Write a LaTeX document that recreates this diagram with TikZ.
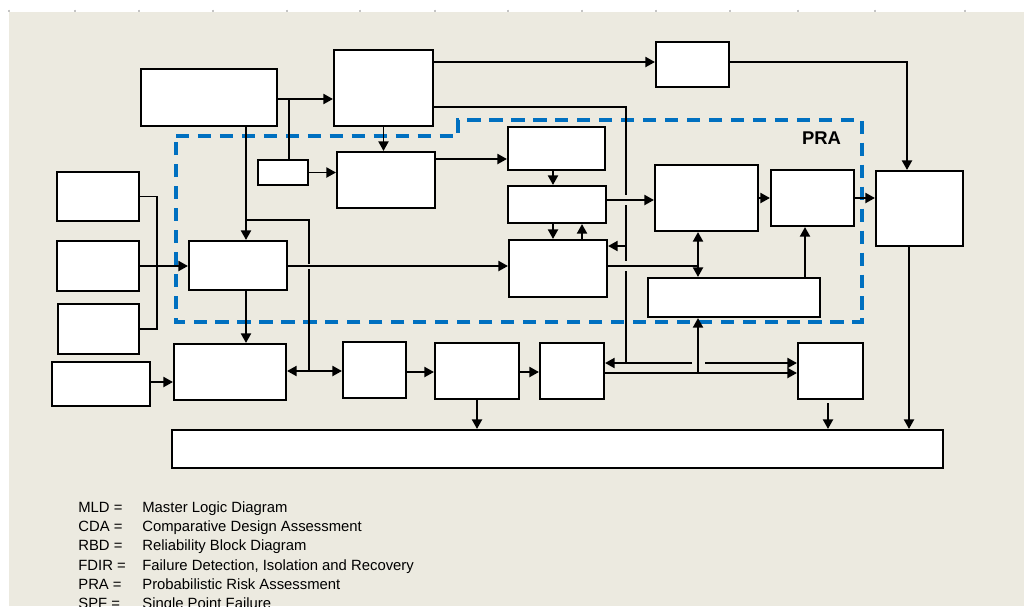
\documentclass[tikz,border=0pt]{standalone}
\usepackage{fontspec}
\setmainfont{Liberation Sans}
\usetikzlibrary{arrows.meta}
\definecolor{pagebg}{HTML}{ECEAE0}
\definecolor{praaccent}{HTML}{0070C0}
\definecolor{tickgray}{HTML}{C4C4C4}
\tikzset{
  block/.style={
    draw=black,
    fill=white,
    line width=1.2pt,
    inner sep=0pt,
  },
  flow/.style={
    -{Triangle[length=1.9mm,width=2mm]},
    line width=1.05pt,
  },
  both flow/.style={
    {Triangle[length=1.9mm,width=2mm]}-{Triangle[length=1.9mm,width=2mm]},
    line width=1.05pt,
  },
  link/.style={
    line width=1.05pt,
  },
  pra border/.style={
    draw=praaccent,
    line width=2.2pt,
    dash pattern=on 7.5pt off 5pt,
  },
  pra label/.style={
    font=\fontsize{10.5}{12}\selectfont\bfseries,
    inner sep=0pt,
  },
  legend/.style={
    anchor=base west,
    inner sep=0pt,
    font=\fontsize{8.45}{10}\selectfont,
  },
}

\begin{document}
\begin{tikzpicture}[x=0.02cm, y=-0.02cm]
  \useasboundingbox (0,0) rectangle (1024,606);
  \fill[pagebg] (9,12) rectangle (1024,606);
  \foreach \tx in {9,75,139,213,287,360,435,508,582,656,730,798,875,965}
    \draw[tickgray, line width=0.6pt] (\tx,9.5) -- (\tx,12);

  \draw[pra border] (176,136) -- (458,136) -- (458,120) -- (862,120)
    -- (862,322) -- (176,322) -- cycle;
  \node[pra label] (pra) at (821.5,138.5) {PRA};

  \node[block, minimum width=2.72cm, minimum height=1.14cm] (src) at (209,97.5) {};
  \node[block, minimum width=1.98cm, minimum height=1.52cm] (hub) at (383.5,88) {};
  \node[block, minimum width=1.46cm, minimum height=0.90cm] (side) at (692.5,64.5) {};
  \node[block, minimum width=1.00cm, minimum height=0.50cm] (tag) at (283,172.5) {};
  \node[block, minimum width=1.96cm, minimum height=1.12cm] (mid) at (386,180) {};
  \node[block, minimum width=1.94cm, minimum height=0.86cm] (upper) at (556.5,148.5) {};
  \node[block, minimum width=1.96cm, minimum height=0.74cm] (middle) at (557,204.5) {};
  \node[block, minimum width=1.96cm, minimum height=1.14cm] (lower) at (558,268.5) {};
  \node[block, minimum width=2.06cm, minimum height=1.32cm] (model) at (706.5,198) {};
  \node[block, minimum width=1.66cm, minimum height=1.12cm] (quant) at (812.5,198) {};
  \node[block, minimum width=3.44cm, minimum height=0.78cm] (base) at (734,297.5) {};
  \node[block, minimum width=1.74cm, minimum height=1.50cm] (out) at (919.5,208.5) {};
  \node[block, minimum width=1.64cm, minimum height=0.98cm] (inA) at (98,196.5) {};
  \node[block, minimum width=1.64cm, minimum height=1.00cm] (inB) at (98,266) {};
  \node[block, minimum width=1.62cm, minimum height=1.00cm] (inC) at (98.5,329) {};
  \node[block, minimum width=1.96cm, minimum height=0.98cm] (entry) at (238,265.5) {};
  \node[block, minimum width=1.96cm, minimum height=0.88cm] (feed) at (101,384) {};
  \node[block, minimum width=2.24cm, minimum height=1.12cm] (merge) at (230,372) {};
  \node[block, minimum width=1.26cm, minimum height=1.12cm] (stageA) at (374.5,370) {};
  \node[block, minimum width=1.68cm, minimum height=1.12cm] (stageB) at (477,371) {};
  \node[block, minimum width=1.28cm, minimum height=1.12cm] (stageC) at (572,371) {};
  \node[block, minimum width=1.30cm, minimum height=1.12cm] (stageD) at (830.5,371) {};
  \node[block, minimum width=15.42cm, minimum height=0.76cm] (sink) at (557.5,449) {};

  \coordinate (tapA) at (289,99);
  \coordinate (colA) at (246,220);
  \coordinate (colB) at (309,220);
  \coordinate (bus) at (157,0);
  \coordinate (stackL) at (553,0);
  \coordinate (stackR) at (582,0);
  \coordinate (railX) at (626,107);
  \coordinate (railY) at (626,363);
  \coordinate (jointX) at (698,266);
  \coordinate (quantX) at (805,0);
  \coordinate (cornerC) at (907,62);
  \coordinate (outX) at (909,0);
  \coordinate (dropD) at (828,403);

  \draw[flow] (src.east |- tapA) -- (hub.west |- tapA);
  \draw[link] (tapA) -- (tapA |- tag.north);
  \draw[flow] (hub.east |- cornerC) -- (side.west |- cornerC);
  \draw[flow] (side.east |- cornerC) -- (cornerC) -- (cornerC |- out.north);
  \draw[flow] (hub.south) -- (hub.south |- mid.north);
  \draw[flow] (tag.east) -- (tag.east -| mid.west);
  \draw[flow] (mid.east |- 0,159) -- (upper.west |- 0,159);

  \draw[flow] (colA |- src.south) -- (colA |- entry.north);
  \draw[link] (colA) -- (colB) -- (colB |- 0,264);
  \draw[link] (colB |- 0,269) -- (colB |- 0,371);
  \draw[flow] (colA |- entry.south) -- (colA |- merge.north);

  \draw[link] (inA.east) -- (inA.east -| bus) -- (inC.east -| bus) -- (inC.east);
  \draw[flow] (inB.east) -- (inB.east -| entry.west);
  \draw[flow] (entry.east |- jointX) -- (lower.west |- jointX);

  \draw[flow] (stackL |- upper.south) -- (stackL |- middle.north);
  \draw[flow] (stackL |- middle.south) -- (stackL |- lower.north);
  \draw[flow] (stackR |- lower.north) -- (stackR |- middle.south);

  \draw[link] (hub.east |- railX) -- (railX) -- (railX |- 0,195);
  \draw[link] (railX |- 0,205) -- (railX |- 0,261);
  \draw[link] (railX |- 0,271) -- (railY);
  \draw[flow] (railX |- 0,246) -- (lower.east |- 0,246);
  \draw[flow] (jointX |- railY) ++(-6,0) -- (stageC.east |- railY);
  \draw[flow] (jointX |- railY) ++(7,0) -- (stageD.west |- railY);

  \draw[flow] (middle.east |- 0,200) -- (model.west |- 0,200);
  \draw[flow] (model.east) -- (quant.west);
  \draw[flow] (quant.east) -- (quant.east -| out.west);
  \draw[both flow] (jointX |- model.south) -- (jointX |- base.north);
  \draw[link] (lower.east |- jointX) -- (jointX);
  \draw[flow] (quantX |- base.north) -- (quantX |- quant.south);

  \draw[both flow] (merge.east |- 0,371) -- (stageA.west |- 0,371);
  \draw[flow] (feed.east |- 0,382) -- (merge.west |- 0,382);
  \draw[flow] (stageA.east |- 0,372) -- (stageB.west |- 0,372);
  \draw[flow] (stageB.east |- 0,372) -- (stageC.west |- 0,372);
  \draw[flow] (stageC.east |- 0,373) -- (stageD.west |- 0,373);
  \draw[flow] (jointX |- 0,373) -- (jointX |- base.south);

  \draw[flow] (stageB.south) -- (stageB.south |- sink.north);
  \draw[flow] (dropD) -- (dropD |- sink.north);
  \draw[flow] (outX |- out.south) -- (outX |- sink.north);

  \node[legend] (kMLD) at (78,512) {MLD =};
  \node[legend] (kCDA) at (78,531) {CDA =};
  \node[legend] (kRBD) at (78,550) {RBD =};
  \node[legend] (kFDIR) at (78,570) {FDIR =};
  \node[legend] (kPRA) at (78,589) {PRA =};
  \node[legend] (kSPF) at (78,608) {SPF =};
  \node[legend] (vMLD) at (142,512) {Master Logic Diagram};
  \node[legend] (vCDA) at (142,531) {Comparative Design Assessment};
  \node[legend] (vRBD) at (142,550) {Reliability Block Diagram};
  \node[legend] (vFDIR) at (142,570) {Failure Detection, Isolation and Recovery};
  \node[legend] (vPRA) at (142,589) {Probabilistic Risk Assessment};
  \node[legend] (vSPF) at (142,608) {Single Point Failure};
\end{tikzpicture}
\end{document}
